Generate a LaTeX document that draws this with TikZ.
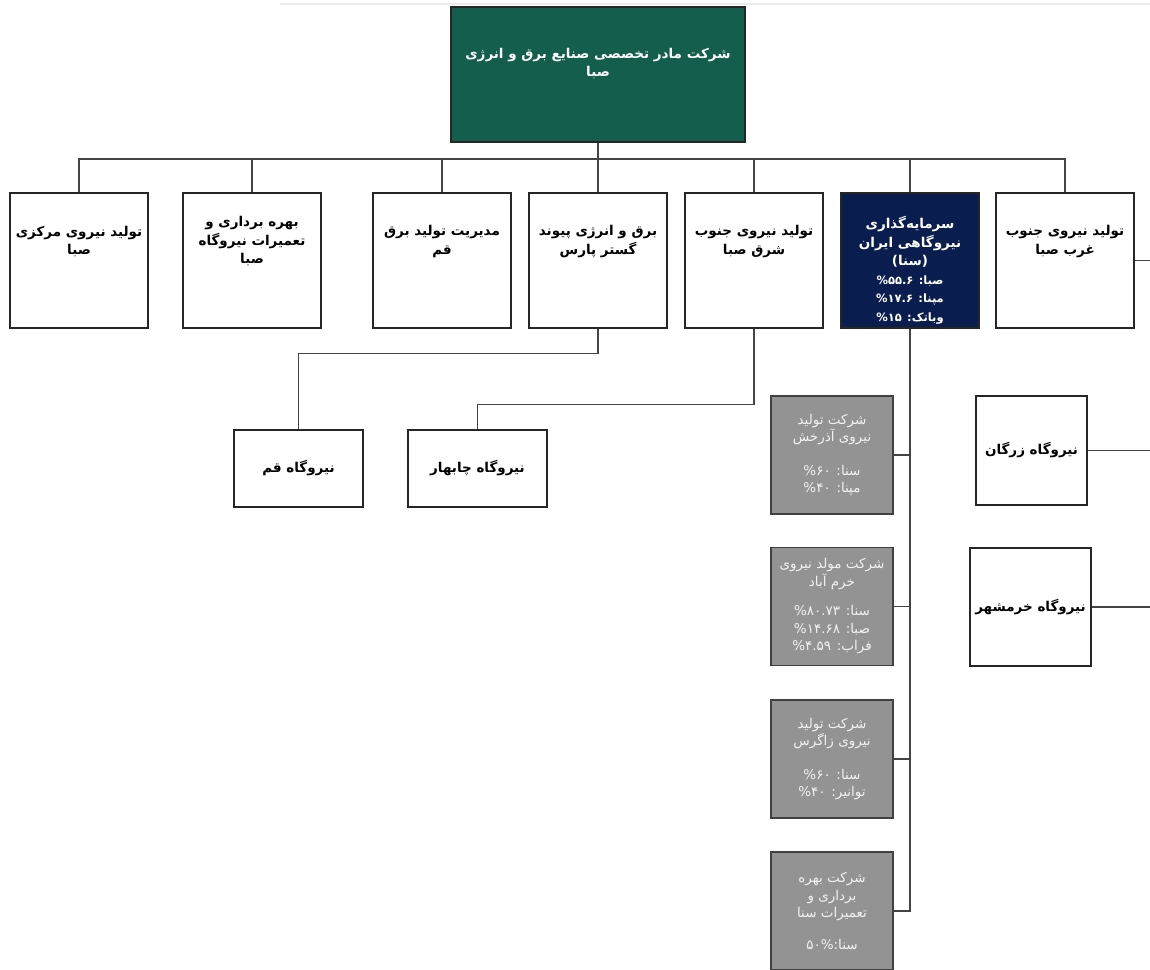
\documentclass[tikz,border=0pt]{standalone}
\usepackage{fontspec}
\TeXXeTstate=1
\newfontfamily\farsi[Script=Arabic]{DejaVu Sans}
\newcommand{\fa}[1]{\beginR#1\endR}
\newcommand{\pct}[1]{{\fontsize{11.5}{17}\selectfont\fa{#1}}}
\definecolor{sabagreen}{RGB}{19,94,77}
\definecolor{sananavy}{RGB}{9,30,78}
\definecolor{subgray}{RGB}{147,147,147}
\definecolor{wirecol}{RGB}{68,68,68}

\begin{document}
\begin{tikzpicture}[x=1pt, y=-1pt,
    wbox/.style={draw=black!85, line width=1.3pt, fill=white, inner sep=0pt,
      minimum width=138pt, minimum height=135pt},
    gbox/.style={draw=black!75, line width=1.3pt, fill=subgray, text=white!95!black,
      inner sep=0pt, minimum width=122pt, minimum height=118pt, align=center,
      font=\farsi\fontsize{13.5}{17.5}\selectfont},
    pbox/.style={wbox, align=center, font=\farsi\bfseries\fontsize{13.5}{18}\selectfont},
    btxt/.style={align=center, font=\farsi\bfseries\fontsize{13.5}{18.5}\selectfont},
    wire/.style={draw=wirecol, line width=1.3pt}]
  \useasboundingbox (0,0) rectangle (1150,969);
  \draw[black!7, line width=1.5pt] (280,4) -- (1150,4);

  \node[wbox, fill=sabagreen, minimum width=294pt,
    label={[btxt, text=white, yshift=11pt]center:{\fa{شرکت مادر تخصصی صنایع برق و انرژی}\\\fa{صبا}}}] (saba) at (598,74.5) {};

  \node[wbox, label={[btxt, yshift=19pt]center:{\fa{تولید نیروی مرکزی}\\\fa{صبا}}}] (markazi) at (79,260.5) {};
  \node[wbox, label={[btxt, yshift=19pt]center:{\fa{بهره برداری و}\\\fa{تعمیرات نیروگاه}\\\fa{صبا}}}] (bahre) at (252,260.5) {};
  \node[wbox, label={[btxt, yshift=19pt]center:{\fa{مدیریت تولید برق}\\\fa{قم}}}] (modiriat) at (442,260.5) {};
  \node[wbox, label={[btxt, yshift=19pt]center:{\fa{برق و انرژی پیوند}\\\fa{گستر پارس}}}] (pevand) at (598,260.5) {};
  \node[wbox, label={[btxt, yshift=19pt]center:{\fa{تولید نیروی جنوب}\\\fa{شرق صبا}}}] (jshargh) at (754,260.5) {};
  \node[wbox, fill=sananavy, label={[btxt, text=white, yshift=-10pt]center:{\fa{سرمایه‌گذاری}\\\fa{نیروگاهی ایران}\\\fa{(سنا)}\\\pct{صبا: \%۵۵.۶}\\\pct{مپنا: \%۱۷.۶}\\\pct{وباتک: \%۱۵}}}] (sana) at (910,260.5) {};
  \node[wbox, label={[btxt, yshift=19pt]center:{\fa{تولید نیروی جنوب}\\\fa{غرب صبا}}}] (jgharb) at (1065,260.5) {};

  \node[pbox, minimum width=129pt, minimum height=77pt] (nqom) at (298.5,468.5) {\fa{نیروگاه قم}};
  \node[pbox, minimum width=139pt, minimum height=77pt] (nchabahar) at (477.5,468.5) {\fa{نیروگاه چابهار}};
  \node[pbox, minimum width=111pt, minimum height=109pt] (zargan) at (1031.5,450.5) {\fa{نیروگاه زرگان}};
  \node[pbox, minimum width=121pt, minimum height=118pt] (khorram) at (1030.5,607) {\fa{نیروگاه خرمشهر}};

  \node[gbox] (g1) at (832,455) {\fa{شرکت تولید}\\\fa{نیروی آذرخش}\\[16pt]\fa{سنا: \%۶۰}\\\fa{مپنا: \%۴۰}};
  \node[gbox] (g2) at (832,606.5) {\fa{شرکت مولد نیروی}\\\fa{خرم آباد}\\[12pt]\fa{سنا: \%۸۰.۷۳}\\\fa{صبا: \%۱۴.۶۸}\\\fa{فراب: \%۴.۵۹}};
  \node[gbox] (g3) at (832,759) {\fa{شرکت تولید}\\\fa{نیروی زاگرس}\\[16pt]\fa{سنا: \%۶۰}\\\fa{توانیر: \%۴۰}};
  \node[gbox] (g4) at (832,911) {\fa{شرکت بهره}\\\fa{برداری و}\\\fa{تعمیرات سنا}\\[14pt]\fa{سنا:\%۵۰}};

  \coordinate (bus) at (598,159);
  \coordinate (edge) at (1150,0);
  \draw[wire] (saba) -- (pevand);
  \foreach \n in {markazi,bahre,modiriat,jshargh,sana,jgharb}
    \draw[wire] (\n.north) |- (bus);
  \draw[wire] (pevand.south) -- ++(0,25) -| (nqom.north);
  \draw[wire] (jshargh.south) -- ++(0,76) -| (nchabahar.north);
  \draw[wire] (sana.south) |- (g4.east);
  \foreach \n in {g1,g2,g3}
    \draw[wire] (\n.east) -- (\n.east -| sana.south);
  \foreach \n in {jgharb,zargan,khorram}
    \draw[wire] (\n.east) -- (\n.east -| edge);
\end{tikzpicture}
\end{document}
